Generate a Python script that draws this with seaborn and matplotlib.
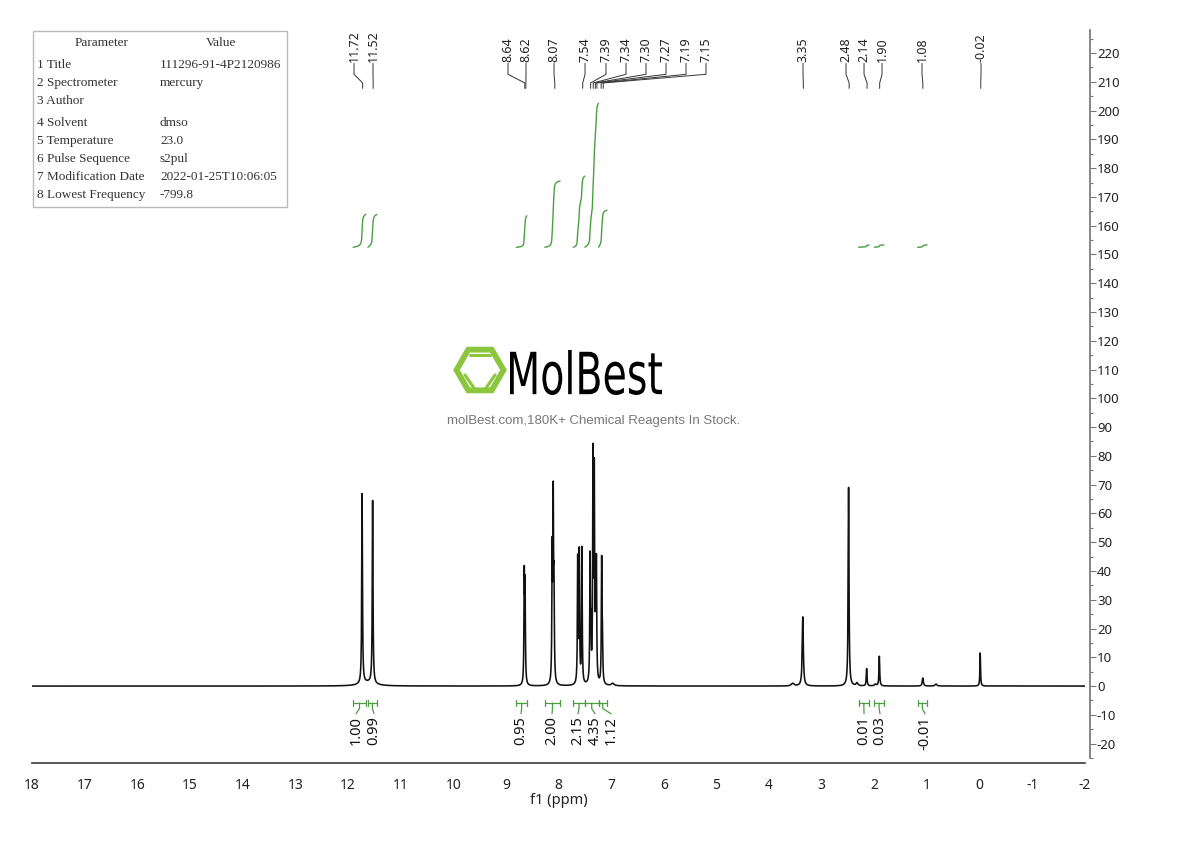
import numpy as np
import pandas as pd
import matplotlib
matplotlib.use('Agg')
import matplotlib.pyplot as plt
import seaborn as sns
from matplotlib.patches import Rectangle, RegularPolygon, PathPatch
from matplotlib.lines import Line2D
from matplotlib.textpath import TextPath
from matplotlib.font_manager import FontProperties
from matplotlib.transforms import Affine2D
from matplotlib.ticker import MultipleLocator

# --- spectrum peaks (ppm, height, half width) ---
peak_ppm = [11.73, 11.53, 11.62, 8.65, 8.635, 8.12, 8.10, 8.085,
            7.635, 7.605, 7.555, 7.40, 7.385, 7.345, 7.32, 7.295, 7.28,
            7.18, 7.165, 6.97, 3.55, 3.36, 2.49, 2.33, 2.147, 1.98,
            1.906, 1.08, 0.83, -0.01]
peak_height = [66, 63.5, 1.2, 36, 32, 44, 61, 30,
               43, 45, 47, 42, 15, 77, 70, 20, 38,
               42, 15, 0.8, 0.9, 24, 69, 1.0, 6, 0.6,
               10.3, 2.8, 0.7, 11.5]
peak_hw = [0.008, 0.008, 0.15, 0.007, 0.007, 0.007, 0.007, 0.007,
           0.007, 0.007, 0.007, 0.007, 0.007, 0.007, 0.007, 0.008, 0.007,
           0.007, 0.007, 0.03, 0.03, 0.012, 0.009, 0.02, 0.008, 0.02,
           0.008, 0.012, 0.02, 0.007]

# --- peak labels ---
label_text = ['11.72', '11.52', '8.64', '8.62', '8.07', '7.54', '7.39', '7.34',
              '7.30', '7.27', '7.19', '7.15', '3.35', '2.48', '2.14', '1.90',
              '1.08', '-0.02']
label_at = [11.884, 11.523, 8.959, 8.617, 8.085, 7.496, 7.098, 6.718,
            6.338, 5.958, 5.578, 5.199, 3.356, 2.539, 2.197, 1.855,
            1.096, -0.025]

# --- integrals ---
int_value = ['1.00', '0.99', '0.95', '2.00', '2.15', '4.35', '1.12', '0.01', '0.03', '-0.01']
int_hi = [11.90, 11.62, 8.80, 8.26, 7.72, 7.50, 7.24, 2.30, 2.00, 1.18]
int_lo = [11.66, 11.45, 8.60, 7.97, 7.50, 7.24, 7.08, 2.10, 1.82, 1.00]
int_label_at = [11.846, 11.504, 8.712, 8.123, 7.630, 7.307, 7.003, 2.197, 1.894, 1.039]

# --- parameter table ---
param_names = ['1 Title', '2 Spectrometer', '3 Author', '4 Solvent', '5 Temperature',
               '6 Pulse Sequence', '7 Modification Date', '8 Lowest Frequency']
param_values = ['111296-91-4P2120986', 'mercury', '', 'dmso', '23.0',
                's2pul', '2022-01-25T10:06:05', '-799.8']

sns.set_theme(style='white')
plt.rcParams['font.family'] = ['Noto Sans', 'DejaVu Sans']
plt.rcParams['axes.unicode_minus'] = False

W, H = 1190, 841
fig = plt.figure(figsize=(W / 100, H / 100), dpi=100)
fig.patch.set_facecolor('white')
px = Affine2D().scale(1, -1).translate(0, H)  # picture pixel coords

ax = fig.add_axes([32 / W, 1 - 758 / H, (1085 - 32) / W, (758 - 30) / H])
ax.patch.set_alpha(0)

ppm = np.linspace(-2, 18, 40001)
spec = np.zeros_like(ppm)
for p, h, w in zip(peak_ppm, peak_height, peak_hw):
    spec += h / (1 + ((ppm - p) / w) ** 2)
df = pd.DataFrame({'ppm': ppm, 'intensity': spec})
sns.lineplot(data=df, x='ppm', y='intensity', ax=ax, color='#111111', lw=1.15,
             estimator=None, sort=False, zorder=3)

green = '#4a9e3f'
scale = 11.5
base = 152.5
for v, hi, lo, la in zip(int_value, int_hi, int_lo, int_label_at):
    m = (ppm >= lo) & (ppm <= hi)
    seg = spec[m]
    c = np.cumsum(seg[::-1])[::-1]
    c = c / c.max()
    hgt = max(abs(float(v)) * scale, 0.8)
    sns.lineplot(x=ppm[m], y=base + c * hgt, ax=ax, color=green, lw=1.0,
                 estimator=None, sort=False)
    # bracket under the baseline
    ax.plot([hi, lo], [-5.9, -5.9], color=green, lw=0.9)
    ax.plot([hi, hi], [-4.7, -7.1], color=green, lw=0.9)
    ax.plot([lo, lo], [-4.7, -7.1], color=green, lw=0.9)
    mid = (hi + lo) / 2
    ax.plot([mid, mid, la], [-5.9, -7.8, -9.6], color=green, lw=0.9)
    ax.text(la, -10.5, v, rotation=90, ha='center', va='top', fontsize=10.5, color='#111')

for t, la in zip(label_text, label_at):
    pk = float(t)
    ax.plot([la, la, pk, pk], [216.4, 212.6, 209.6, 207.7], color='#333', lw=0.7)
    ax.text(la, 216.9, t, rotation=90, ha='center', va='bottom', fontsize=9, color='#222')

ax.set_xlim(18, -2)
ax.set_ylim(-25, 228)
for s in ['left', 'top']:
    ax.spines[s].set_visible(False)
ax.spines['right'].set_position(('outward', 3.6))
ax.spines['bottom'].set_position(('outward', 3.6))
ax.spines['right'].set_color('#777')
ax.spines['bottom'].set_color('#444')
ax.yaxis.tick_right()
ax.yaxis.set_major_locator(MultipleLocator(10))
ax.yaxis.set_minor_locator(MultipleLocator(5))
ax.xaxis.set_major_locator(MultipleLocator(1))
ax.xaxis.set_minor_locator(MultipleLocator(0.5))
ax.tick_params(axis='y', which='major', direction='out', length=4, width=0.8,
               color='#777', labelsize=9.5, pad=1, labelcolor='#222')
ax.tick_params(axis='y', which='minor', direction='out', length=2.5, width=0.8, color='#777')
ax.tick_params(axis='x', which='major', direction='out', length=4, width=0.8,
               color='#444', labelsize=10, pad=7, labelcolor='#222')
ax.tick_params(axis='x', which='minor', direction='out', length=2, width=0.8, color='#444')
ax.set_ylabel('')
ax.set_xlabel('f1 (ppm)', fontsize=10.5, labelpad=0, color='#222')

# parameter table
fig.add_artist(Rectangle((33, 31), 254, 176, transform=px, fill=False, edgecolor='#bbbbbb', lw=1))
tfont = dict(family='Liberation Serif', fontsize=9.5, color='#333', va='center', transform=px)
fig.text(102, 43, 'Parameter', ha='center', **tfont)
fig.text(221, 43, 'Value', ha='center', **tfont)
for n, v, y in zip(param_names, param_values, [65, 83, 101, 123, 141, 159, 177, 195]):
    fig.text(37, y, n, ha='left', **tfont)
    fig.text(160, y, v, ha='left', **tfont)

# watermark
lime = '#8cc63f'
fig.add_artist(RegularPolygon((480, H - 370), 6, radius=23.5, orientation=np.pi / 6,
                              transform=None, fill=False, edgecolor=lime, lw=4.2))
for (x1, y1, x2, y2) in [(470, 355, 490, 355), (465, 375, 474, 388), (495, 375, 486, 388)]:
    fig.add_artist(Line2D([x1, x2], [H - y1, H - y2], transform=None, color=lime, lw=2.2))
tp = TextPath((0, 0), 'MolBest', size=100, prop=FontProperties(family='DejaVu Sans'))
ext = tp.get_extents()
tr = Affine2D().translate(-ext.x0, -ext.y0).scale(152 / ext.width, 45 / ext.height).translate(510, H - 395)
fig.add_artist(PathPatch(tp, transform=tr, facecolor='black', lw=0))
fig.text(594, 421, 'molBest.com,180K+ Chemical Reagents In Stock.', transform=px,
         ha='center', va='center', fontsize=9.5, color='#777', family='Liberation Sans')

fig.savefig('out.png', dpi=100)
